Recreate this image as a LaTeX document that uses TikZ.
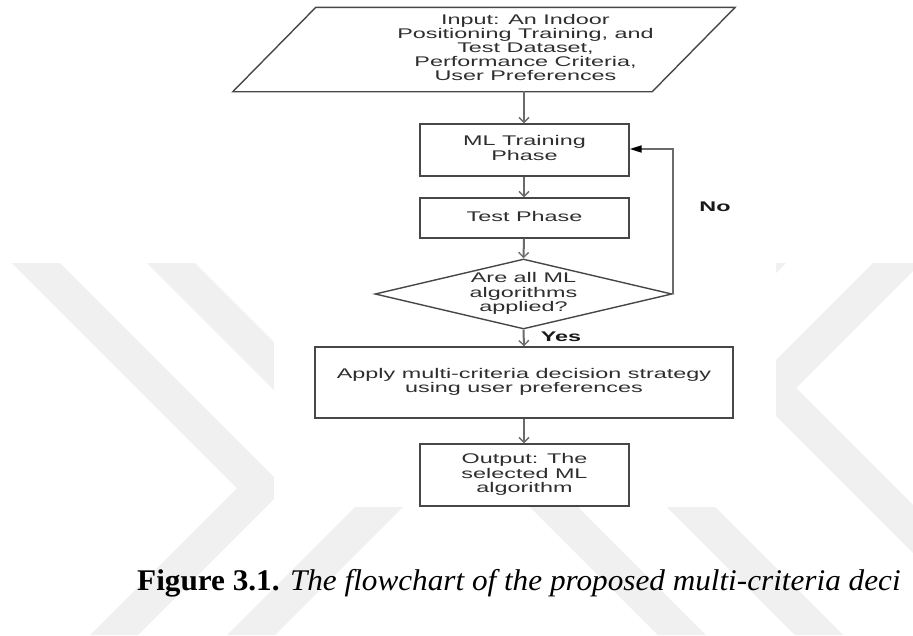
\documentclass[tikz,border=0pt]{standalone}
\usepackage{graphicx}
\usepackage{fontspec}
\setmainfont{Liberation Sans}
\newfontfamily\capfont{Liberation Serif}
\usetikzlibrary{arrows.meta,shapes.geometric}
\newcommand{\fltext}[1]{\scalebox{1.67}[1]{\begin{tabular}{@{}c@{}}#1\end{tabular}}}
\tikzset{
  wm/.style={fill=black!6, draw=none},
  flbox/.style={draw=black!72, line width=1.4pt, rectangle, inner sep=0pt,
     font=\fontsize{14}{13.6}\selectfont, text=black!82},
  conn/.style={draw=black!58, line width=2pt,
     -{Straight Barb[length=5pt,width=10pt,line width=1.3pt]}},
  loopconn/.style={draw=black!58, line width=1.8pt,
     -{Triangle[length=12pt,width=7pt,black]}},
  lab/.style={inner sep=0pt, font=\fontsize{14}{14}\selectfont\bfseries, text=black!90}
}
\begin{document}
\begin{tikzpicture}[x=1pt,y=-1pt]
\useasboundingbox (0,0) rectangle (913,635);
\clip (0,0) rectangle (913,635);
\fill[white] (0,0) rectangle (913,635);
% watermark
\begin{scope}
\clip (0,263) rectangle (913,635);
\fill[wm] (12,263) -- (60,263) -- (285,488) -- (138,635) -- (90,635) -- (237,488) -- cycle;
\fill[wm] (147,263) -- (195,263) -- (421,489) -- (275,635) -- (227,635) -- (373,489) -- cycle;
\fill[wm] (921,263) -- (873,263) -- (648,488) -- (795,635) -- (843,635) -- (696,488) -- cycle;
\fill[wm] (786,263) -- (738,263) -- (512,489) -- (658,635) -- (706,635) -- (560,489) -- cycle;
\fill[wm] (748,388) -- (772,364) -- (1043,635) -- (995,635) -- cycle;
\end{scope}
\fill[white] (274,0) rectangle (776,507);
% input parallelogram
\node[flbox, draw=none, minimum width=418pt, minimum height=83pt] (in) at (525.5,49.5)
  {\fltext{Input: An Indoor\\Positioning Training, and\\Test Dataset,\\Performance Criteria,\\User Preferences}};
\draw[draw=black!72, line width=1.4pt]
  (in.north west) -- (in.north east) -- ([xshift=-83pt]in.south east) -- ([xshift=-83pt]in.south west) -- cycle;
\coordinate (inb) at (524,91);
% boxes
\node[flbox, minimum width=209pt, minimum height=52pt] (ml) at (524.5,150) {\fltext{ML Training\\Phase}};
\node[flbox, minimum width=209pt, minimum height=40pt] (test) at (524.5,218) {\fltext{Test Phase}};
\node[diamond, draw=black!72, line width=1.4pt, inner sep=0pt, minimum width=297pt, minimum height=70pt] (dec) at (523.5,294) {};
\node[flbox, draw=none] (dect) at (dec.center) {\fltext{Are all ML\\algorithms\\applied?}};
\node[flbox, minimum width=418pt, minimum height=71pt] (apply) at (524,382.5)
  {\fltext{Apply multi-criteria decision strategy\\using user preferences}};
\node[flbox, minimum width=209pt, minimum height=62pt] (out) at (524.5,475)
  {\fltext{Output: The\\selected ML\\algorithm}};
% connectors
\draw[conn] (inb) -- (inb |- ml.north);
\draw[conn] (ml.south -| inb) -- (test.north -| inb);
\draw[conn] (test.south -| inb) -- (dec.north);
\draw[conn] (dec.south) -- (apply.north -| inb);
\draw[conn] (apply.south -| inb) -- (out.north -| inb);
\draw[loopconn] (dec.east) -- ++(0,-145) -- (ml.east |- 0,149);
\node[lab] (yes) at (561,337) {\scalebox{1.67}[1]{Yes}};
\node[lab] (no) at (715,207) {\scalebox{1.67}[1]{No}};
% caption
\node[anchor=base west, inner sep=0pt] (cap) at (137,590)
  {\scalebox{1.04}[1]{\capfont\fontsize{30}{36}\selectfont\textbf{Figure 3.1.} \textit{The flowchart of the proposed multi-criteria deci}}};
\end{tikzpicture}
\end{document}
